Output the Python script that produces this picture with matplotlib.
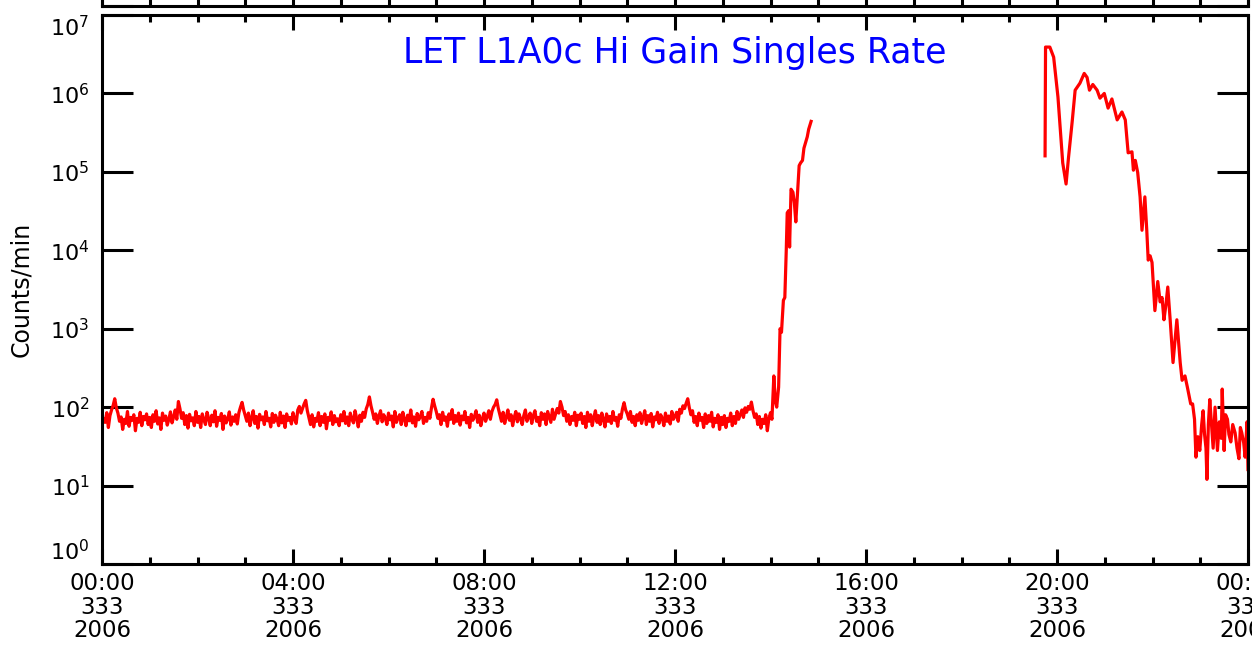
import numpy as np
import matplotlib
matplotlib.use("Agg")
import matplotlib.pyplot as plt
from matplotlib.ticker import FixedLocator, FixedFormatter, NullLocator, MultipleLocator

# quiet-time singles rate, one sample every 2 minutes from 00:00 to 13:58
base_step_min = 2
base_rate = [
    58, 72, 64, 85, 55, 78, 92, 105, 128, 98, 84, 66, 75, 52, 70, 62, 88, 57, 74, 68, 80, 50, 72, 64, 86, 58, 76, 69, 82, 60,
    74, 55, 80, 66, 90, 61, 73, 52, 84, 68, 77, 59, 70, 87, 63, 75, 92, 70, 118, 95, 72, 85, 60, 78, 54, 81, 67, 73, 58, 88,
    64, 76, 55, 82, 69, 60, 86, 72, 58, 79, 65, 90, 57, 74, 68, 83, 52, 77, 63, 71, 87, 59, 75, 66, 80, 61, 85, 100, 115, 92,
    78, 66, 84, 58, 73, 90, 62, 76, 54, 81, 69, 75, 60, 88, 67, 72, 56, 83, 64, 79, 70, 58, 86, 63, 77, 55, 82, 68, 74, 61,
    85, 70, 62, 92, 102, 84, 96, 110, 122, 90, 74, 60, 80, 56, 72, 66, 85, 58, 76, 64, 82, 53, 74, 68, 87, 60, 78, 65, 71, 58,
    80, 67, 88, 62, 75, 58, 84, 70, 63, 90, 72, 56, 79, 66, 86, 74, 95, 108, 135, 104, 86, 70, 82, 62, 77, 90, 65, 80, 72, 60,
    84, 69, 77, 56, 88, 64, 73, 80, 60, 86, 70, 58, 79, 67, 92, 63, 75, 57, 83, 69, 76, 88, 62, 74, 66, 85, 72, 98, 126, 104,
    88, 72, 80, 60, 86, 68, 75, 57, 82, 70, 93, 62, 78, 66, 84, 59, 77, 69, 88, 63, 74, 55, 81, 68, 76, 90, 64, 79, 58, 72,
    84, 66, 76, 90, 70, 88, 100, 108, 124, 96, 80, 66, 86, 62, 75, 92, 68, 80, 58, 74, 88, 65, 82, 71, 60, 78, 92, 66, 75, 84,
    62, 78, 90, 66, 74, 58, 85, 70, 82, 60, 88, 75, 64, 94, 70, 82, 96, 84, 118, 100, 78, 88, 66, 80, 60, 76, 68, 86, 58, 79,
    70, 84, 62, 76, 55, 86, 66, 80, 58, 74, 90, 64, 78, 60, 84, 70, 56, 82, 66, 76, 62, 88, 68, 74, 57, 80, 72, 95, 114, 92,
    82, 70, 88, 64, 76, 58, 80, 68, 85, 62, 74, 90, 60, 78, 66, 83, 56, 75, 69, 86, 62, 80, 72, 58, 84, 66, 77, 61, 88, 70,
    76, 86, 66, 94, 84, 104, 96, 112, 128, 98, 80, 90, 64, 76, 58, 84, 68, 74, 55, 82, 62, 78, 66, 86, 56, 72, 64, 80, 52, 74,
    60, 78, 55, 72, 66, 84, 58, 76, 62, 88, 70, 80, 92, 74, 98, 86, 102, 94, 116, 90, 74, 82, 60, 76, 54, 70, 62, 80, 50, 72,
]

# onset of the event (hours, counts/min)
rise_hours = [14.00, 14.03, 14.07, 14.10, 14.13, 14.17, 14.20, 14.23, 14.27,
              14.30, 14.33, 14.35, 14.38, 14.40, 14.43, 14.47, 14.50, 14.53,
              14.57, 14.60, 14.63, 14.67, 14.70, 14.73, 14.77, 14.80, 14.85]
rise_rate = [85, 70, 250, 120, 100, 180, 1000, 900, 2300,
             2500, 1.0e4, 3.0e4, 3.2e4, 1.1e4, 6.0e4, 5.5e4, 4.0e4, 2.3e4,
             6.0e4, 1.2e5, 1.3e5, 1.4e5, 2.0e5, 2.3e5, 2.8e5, 3.5e5, 4.4e5]

# after the data gap
decay_hours = [19.75, 19.76, 19.85, 19.93, 20.02, 20.12, 20.19, 20.24, 20.32,
               20.38, 20.48, 20.57, 20.63, 20.68, 20.75, 20.84, 20.90, 20.99,
               21.07, 21.15, 21.26, 21.36, 21.43, 21.49, 21.57, 21.60, 21.64,
               21.69, 21.74, 21.78, 21.84, 21.88, 21.91, 21.95, 21.99, 22.05,
               22.11, 22.16, 22.20, 22.24, 22.28, 22.32, 22.37, 22.43, 22.51,
               22.58, 22.62, 22.68, 22.73, 22.80, 22.84, 22.88, 22.91, 22.95,
               22.99, 23.03, 23.06, 23.09, 23.12, 23.14, 23.17, 23.20, 23.24,
               23.27, 23.31, 23.36, 23.40, 23.44, 23.46, 23.50, 23.53, 23.57,
               23.60, 23.64, 23.68, 23.73, 23.77, 23.81, 23.84, 23.87, 23.91,
               23.94, 23.98, 24.00]
decay_rate = [1.6e5, 3.9e6, 3.9e6, 2.9e6, 9.0e5, 1.3e5, 7.0e4, 1.5e5, 4.5e5,
              1.1e6, 1.35e6, 1.8e6, 1.6e6, 1.1e6, 1.3e6, 1.1e6, 8.7e5, 1.0e6,
              6.5e5, 8.5e5, 4.6e5, 5.8e5, 4.6e5, 1.75e5, 1.8e5, 1.05e5, 1.4e5,
              9.8e4, 4.8e4, 1.8e4, 4.8e4, 1.8e4, 7.5e3, 8.5e3, 7.0e3, 1.7e3,
              4.0e3, 2.2e3, 2.5e3, 1.3e3, 2.0e3, 3.4e3, 1.3e3, 370, 1300,
              370, 220, 250, 180, 110, 110, 70, 23, 42,
              28, 60, 90, 45, 30, 12, 60, 125, 55,
              30, 100, 28, 65, 40, 170, 28, 80, 70,
              45, 36, 60, 47, 30, 22, 55, 47, 35,
              23, 65, 16]

x_tick_hours = [0, 4, 8, 12, 16, 20, 24]
x_tick_labels = ["00:00\n333\n2006", "04:00\n333\n2006", "08:00\n333\n2006",
                 "12:00\n333\n2006", "16:00\n333\n2006", "20:00\n333\n2006",
                 "00:00\n334\n2006"]
y_tick_values = [1e0, 1e1, 1e2, 1e3, 1e4, 1e5, 1e6, 1e7]
y_tick_labels = ["$10^{0}$", "$10^{1}$", "$10^{2}$", "$10^{3}$",
                 "$10^{4}$", "$10^{5}$", "$10^{6}$", "$10^{7}$"]

base_hours = np.arange(len(base_rate)) * base_step_min / 60.0
hours = np.concatenate([base_hours, rise_hours, [17.0], decay_hours])
rate = np.concatenate([base_rate, rise_rate, [np.nan], decay_rate])

plt.rcParams['font.family'] = 'DejaVu Sans'
fig = plt.figure(figsize=(12.52, 6.45), dpi=100)
ax = fig.add_axes([102 / 1252, 1 - 564 / 645, 1146 / 1252, 549 / 645])

ax.plot(hours, rate, color='red', linewidth=2.3)

ax.set_yscale('log')
ax.set_ylim(1, 1e7)
ax.set_xlim(0, 24)

ax.xaxis.set_major_locator(FixedLocator(x_tick_hours))
ax.xaxis.set_major_formatter(FixedFormatter(x_tick_labels))
ax.xaxis.set_minor_locator(MultipleLocator(1))
ax.yaxis.set_major_locator(FixedLocator(y_tick_values))
ax.yaxis.set_major_formatter(FixedFormatter(y_tick_labels))
ax.yaxis.set_minor_locator(NullLocator())

ax.tick_params(axis='x', which='major', direction='in', length=11, width=2.2,
               top=True, labelsize=16.5, pad=6)
ax.tick_params(axis='x', which='minor', direction='in', length=5, width=2.2, top=True)
ax.tick_params(axis='y', which='major', direction='in', length=22, width=2.2,
               right=True, labelsize=16, pad=9)
for lbl in ax.get_xticklabels():
    lbl.set_linespacing(1.03)
ylbls = ax.get_yticklabels()
ylbls[0].set_va('bottom')
ylbls[-1].set_va('top')

for sp in ax.spines.values():
    sp.set_linewidth(2.2)

ax.set_ylabel('Counts/min', fontsize=17, labelpad=12)
ax.text(0.5, 0.931, 'LET L1A0c Hi Gain Singles Rate', transform=ax.transAxes,
        ha='center', va='center', color='blue', fontsize=25)

# bottom edge of the panel above, mostly off the page
ax_up = fig.add_axes([102 / 1252, 1 - 5.5 / 645, 1146 / 1252, 0.5])
ax_up.set_xlim(0, 24)
ax_up.set_yscale('log')
ax_up.set_ylim(1, 1e7)
ax_up.xaxis.set_major_locator(FixedLocator(x_tick_hours))
ax_up.xaxis.set_minor_locator(MultipleLocator(1))
ax_up.xaxis.set_major_formatter(FixedFormatter([""] * len(x_tick_hours)))
ax_up.yaxis.set_major_locator(FixedLocator(y_tick_values))
ax_up.yaxis.set_major_formatter(FixedFormatter(y_tick_labels))
ax_up.yaxis.set_minor_locator(NullLocator())
ax_up.tick_params(axis='x', which='major', direction='in', length=11, width=2.2)
ax_up.tick_params(axis='x', which='minor', direction='in', length=5, width=2.2)
ax_up.tick_params(axis='y', which='major', direction='in', length=22, width=2.2,
                  right=True, labelsize=16, pad=9)
ax_up.get_yticklabels()[0].set_va('bottom')
for sp in ax_up.spines.values():
    sp.set_linewidth(2.2)

fig.savefig('out.png', dpi=100)
